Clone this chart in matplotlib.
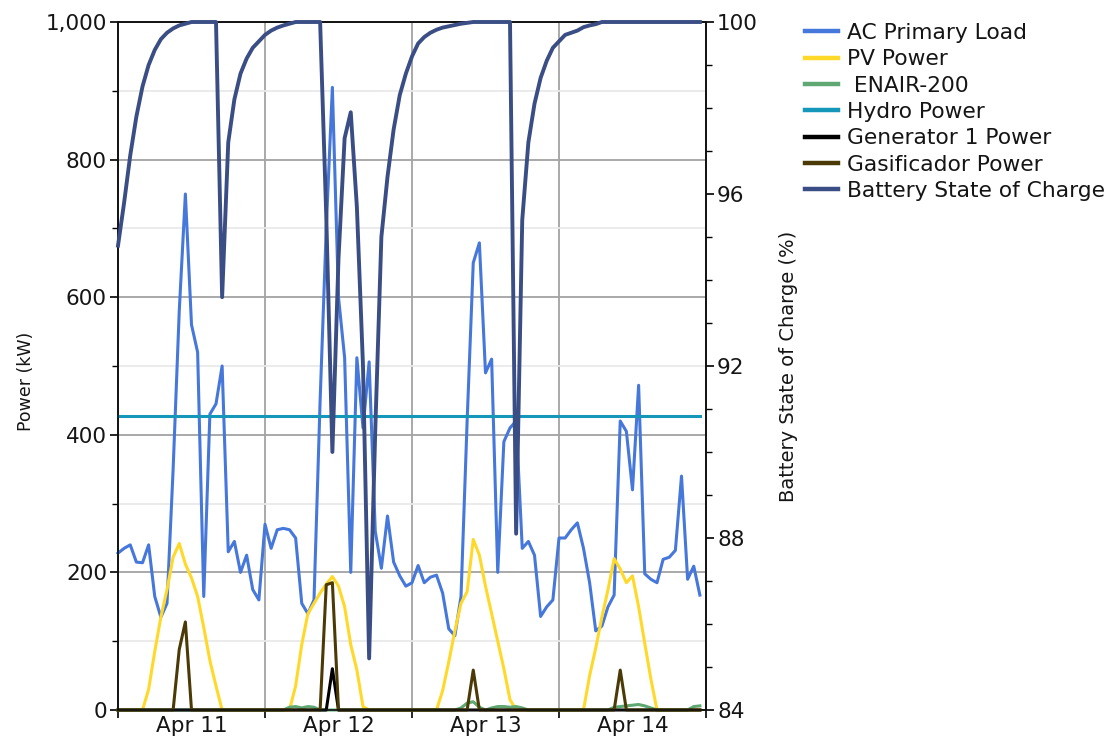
import matplotlib
matplotlib.use('Agg')
import matplotlib.pyplot as plt
import numpy as np
from matplotlib.ticker import FixedLocator, FixedFormatter, NullFormatter

# ---------------- data (hourly, Apr 11 00:00 -> Apr 14 23:00) ----------------
hours = np.arange(96)

ac_primary_load = [
    228, 235, 240, 215, 214, 240, 165, 135, 155, 350, 580, 750,
    560, 520, 165, 430, 445, 500, 230, 245, 200, 225, 175, 160,
    270, 235, 262, 264, 262, 250, 155, 140, 160, 450, 700, 905,
    600, 512, 200, 512, 410, 506, 260, 206, 282, 215, 195, 180,
    185, 210, 185, 193, 196, 170, 118, 108, 165, 420, 650, 679,
    490, 510, 200, 390, 410, 420, 235, 245, 225, 136, 150, 160,
    250, 250, 262, 272, 235, 185, 115, 122, 150, 167, 420, 405,
    320, 472, 198, 190, 185, 219, 222, 232, 340, 190, 209, 167]

pv_power = [
    0, 0, 0, 0, 0, 30, 85, 135, 175, 222, 242, 212,
    192, 165, 120, 72, 35, 0, 0, 0, 0, 0, 0, 0,
    0, 0, 0, 0, 0, 35, 95, 140, 155, 170, 183, 194,
    180, 150, 95, 58, 5, 0, 0, 0, 0, 0, 0, 0,
    0, 0, 0, 0, 0, 28, 70, 115, 155, 172, 248, 225,
    180, 140, 100, 60, 15, 0, 0, 0, 0, 0, 0, 0,
    0, 0, 0, 0, 0, 50, 90, 135, 175, 220, 205, 185,
    195, 150, 97, 45, 0, 0, 0, 0, 0, 0, 0, 0]

enair_200 = [
    0, 0, 0, 0, 0, 0, 0, 0, 0, 0, 0, 0,
    0, 0, 0, 0, 0, 0, 0, 0, 0, 0, 0, 0,
    0, 0, 0, 0, 4, 5, 3, 5, 4, 0, 0, 0,
    0, 0, 0, 0, 0, 0, 0, 0, 0, 0, 0, 0,
    0, 0, 0, 0, 0, 0, 0, 0, 3, 10, 12, 4,
    0, 3, 5, 5, 4, 5, 3, 0, 0, 0, 0, 0,
    0, 0, 0, 0, 0, 0, 0, 0, 0, 4, 5, 6,
    7, 8, 6, 3, 0, 0, 0, 0, 0, 0, 5, 6]

hydro_power = [428] * 96

generator_1 = [0] * 35 + [60] + [0] * 60

gasificador = [
    0, 0, 0, 0, 0, 0, 0, 0, 0, 0, 88, 128,
    0, 0, 0, 0, 0, 0, 0, 0, 0, 0, 0, 0,
    0, 0, 0, 0, 0, 0, 0, 0, 0, 0, 182, 185,
    0, 0, 0, 0, 0, 0, 0, 0, 0, 0, 0, 0,
    0, 0, 0, 0, 0, 0, 0, 0, 0, 0, 58, 0,
    0, 0, 0, 0, 0, 0, 0, 0, 0, 0, 0, 0,
    0, 0, 0, 0, 0, 0, 0, 0, 0, 0, 58, 0,
    0, 0, 0, 0, 0, 0, 0, 0, 0, 0, 0, 0]

battery_soc = [
    94.8, 95.8, 96.9, 97.8, 98.5, 99.0, 99.35, 99.6, 99.75, 99.85, 99.92, 99.96,
    100, 100, 100, 100, 100, 93.6, 97.2, 98.2, 98.8, 99.15, 99.4, 99.55,
    99.7, 99.8, 99.87, 99.92, 99.96, 100, 100, 100, 100, 100, 95.5, 90.0,
    94.5, 97.3, 97.9, 95.7, 92.0, 85.2, 90.5, 95.0, 96.4, 97.5, 98.3, 98.8,
    99.2, 99.5, 99.65, 99.75, 99.82, 99.87, 99.9, 99.93, 99.96, 99.98, 100, 100,
    100, 100, 100, 100, 100, 88.1, 95.4, 97.2, 98.1, 98.7, 99.1, 99.4,
    99.55, 99.7, 99.75, 99.8, 99.88, 99.92, 99.95, 100, 100, 100, 100, 100,
    100, 100, 100, 100, 100, 100, 100, 100, 100, 100, 100, 100]

day_labels = ["Apr 11", "Apr 12", "Apr 13", "Apr 14"]
power_ticks = [0, 200, 400, 600, 800, 1000]
power_tick_labels = ["0", "200", "400", "600", "800", "1,000"]
soc_ticks = [84, 88, 92, 96, 100]
soc_tick_labels = ["84", "88", "92", "96", "100"]

series_labels = ["AC Primary Load", "PV Power", " ENAIR-200", "Hydro Power",
                 "Generator 1 Power", "Gasificador Power", "Battery State of Charge"]

# ---------------- figure ----------------
W, H = 1112, 738
fig = plt.figure(figsize=(W / 100, H / 100), dpi=100)
L, R, T, B = 118, 706, 22, 710
ax = fig.add_axes([L / W, 1 - B / H, (R - L) / W, (B - T) / H])
ax2 = ax.twinx()

txt = '#151515'
lw = 2.2

c_load = '#4677db'
c_pv = '#ffd92a'
c_enair = '#5fa873'
c_hydro = '#1497b8'
c_gen = '#000000'
c_gas = '#4b3a06'
c_soc = '#3a4e85'

h1, = ax.plot(hours, ac_primary_load, color=c_load, lw=lw, clip_on=False, zorder=3)
h2, = ax.plot(hours, pv_power, color=c_pv, lw=lw, clip_on=False, zorder=3)
h3, = ax.plot(hours, enair_200, color=c_enair, lw=lw, clip_on=False, zorder=3)
h4, = ax.plot(hours, hydro_power, color=c_hydro, lw=lw, clip_on=False, zorder=4)
h5, = ax.plot(hours, generator_1, color=c_gen, lw=lw, clip_on=False, zorder=4)
h6, = ax.plot(hours, gasificador, color=c_gas, lw=lw, clip_on=False, zorder=5)
h7, = ax2.plot(hours, battery_soc, color=c_soc, lw=2.8, clip_on=False, zorder=3)

ax.set_xlim(0, 96)
ax.set_ylim(0, 1000)
ax2.set_ylim(84, 100)

# grid
ax.set_axisbelow(True)
ax.yaxis.set_major_locator(FixedLocator(power_ticks))
ax.yaxis.set_major_formatter(FixedFormatter(power_tick_labels))
ax.yaxis.set_minor_locator(FixedLocator([100, 300, 500, 700, 900]))
ax.xaxis.set_major_locator(FixedLocator([0, 24, 48, 72, 96]))
ax.xaxis.set_major_formatter(NullFormatter())
ax.xaxis.set_minor_locator(FixedLocator([12, 36, 60, 84]))
ax.xaxis.set_minor_formatter(FixedFormatter(day_labels))
ax.grid(True, axis='y', which='major', color='#a3a3a3', lw=1.3)
ax.grid(True, axis='y', which='minor', color='#e9e9e9', lw=1.3)
ax.grid(True, axis='x', which='major', color='#a3a3a3', lw=1.3)

ax2.yaxis.set_major_locator(FixedLocator(soc_ticks))
ax2.yaxis.set_major_formatter(FixedFormatter(soc_tick_labels))
ax2.yaxis.set_minor_locator(FixedLocator(list(range(84, 101))))

for a in (ax, ax2):
    for s in a.spines.values():
        s.set_color('#111111')
        s.set_linewidth(1.2)

fs_tick = 15.5
ax.tick_params(axis='y', which='major', length=6, width=1.2, labelsize=fs_tick, labelcolor=txt, pad=2)
ax.tick_params(axis='y', which='minor', length=4, width=1.0)
ax.tick_params(axis='x', which='major', length=6, width=1.2)
ax.tick_params(axis='x', which='minor', length=0, labelsize=fs_tick, labelcolor=txt, pad=4)
ax2.tick_params(axis='y', which='major', length=6, width=1.2, labelsize=fs_tick, labelcolor=txt, pad=2)
ax2.tick_params(axis='y', which='minor', length=4, width=1.0)

ax.set_ylabel("Power (kW)", fontsize=12.5, color=txt)
ax.yaxis.set_label_coords(-0.141, 0.477)
ax2.set_ylabel("Battery State of Charge (%)", fontsize=14, color=txt)
ax2.yaxis.set_label_coords(1.124, 0.5)

fig.legend([h1, h2, h3, h4, h5, h6, h7], series_labels,
           loc='upper left', bbox_to_anchor=(805 / W, 1 - 23 / H),
           frameon=False, fontsize=15.7, handlelength=1.5, handletextpad=0.42,
           labelspacing=0.29, borderaxespad=0, borderpad=0)
for t in fig.legends[0].get_texts():
    t.set_color(txt)
for l in fig.legends[0].get_lines():
    l.set_linewidth(3.2)

fig.savefig("out.png", dpi=100)
